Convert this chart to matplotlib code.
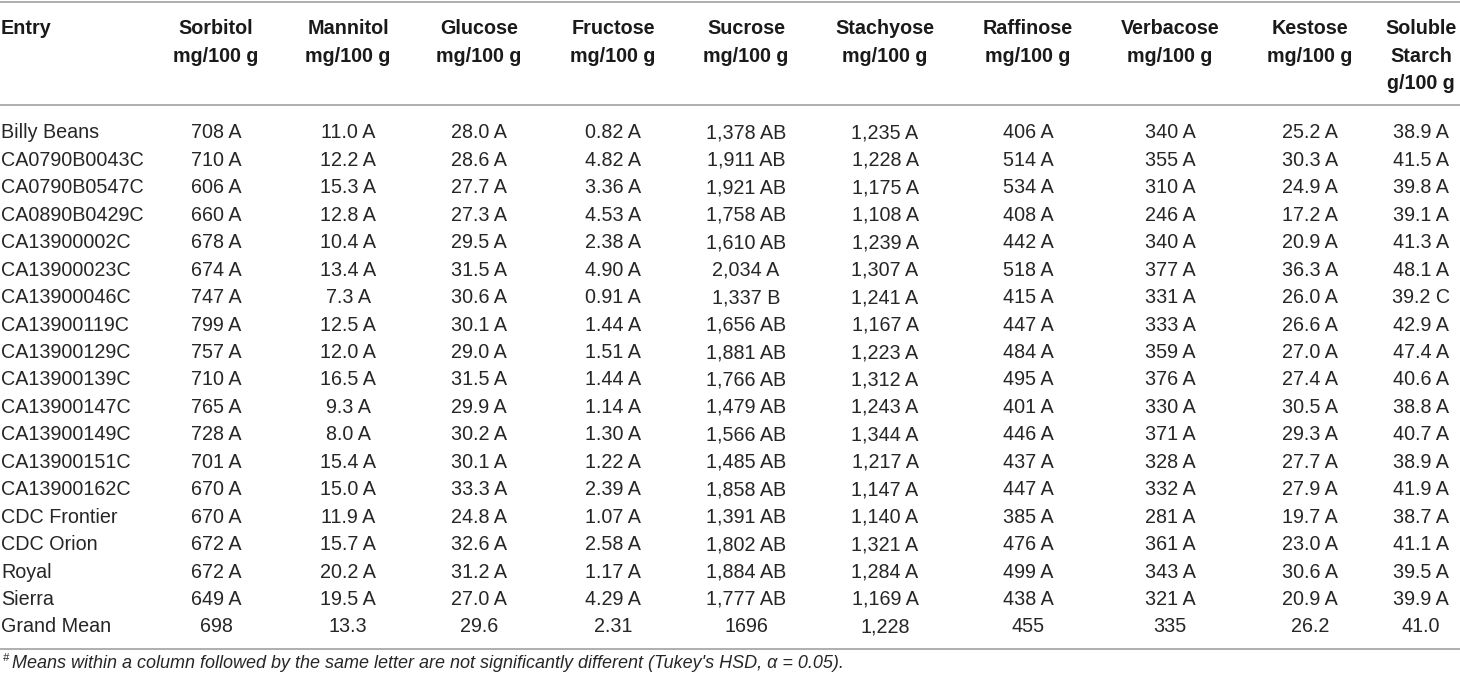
import matplotlib
matplotlib.use("Agg")
import matplotlib.pyplot as plt

entries = ["Billy Beans", "CA0790B0043C", "CA0790B0547C", "CA0890B0429C", "CA13900002C",
           "CA13900023C", "CA13900046C", "CA13900119C", "CA13900129C", "CA13900139C",
           "CA13900147C", "CA13900149C", "CA13900151C", "CA13900162C", "CDC Frontier",
           "CDC Orion", "Royal", "Sierra", "Grand Mean"]

headers = ["Sorbitol\nmg/100 g", "Mannitol\nmg/100 g", "Glucose\nmg/100 g", "Fructose\nmg/100 g",
           "Sucrose\nmg/100 g", "Stachyose\nmg/100 g", "Raffinose\nmg/100 g", "Verbacose\nmg/100 g",
           "Kestose\nmg/100 g", "Soluble\nStarch\ng/100 g"]

sorbitol = ["708 A", "710 A", "606 A", "660 A", "678 A", "674 A", "747 A", "799 A", "757 A", "710 A",
            "765 A", "728 A", "701 A", "670 A", "670 A", "672 A", "672 A", "649 A", "698"]
mannitol = ["11.0 A", "12.2 A", "15.3 A", "12.8 A", "10.4 A", "13.4 A", "7.3 A", "12.5 A", "12.0 A",
            "16.5 A", "9.3 A", "8.0 A", "15.4 A", "15.0 A", "11.9 A", "15.7 A", "20.2 A", "19.5 A", "13.3"]
glucose = ["28.0 A", "28.6 A", "27.7 A", "27.3 A", "29.5 A", "31.5 A", "30.6 A", "30.1 A", "29.0 A",
           "31.5 A", "29.9 A", "30.2 A", "30.1 A", "33.3 A", "24.8 A", "32.6 A", "31.2 A", "27.0 A", "29.6"]
fructose = ["0.82 A", "4.82 A", "3.36 A", "4.53 A", "2.38 A", "4.90 A", "0.91 A", "1.44 A", "1.51 A",
            "1.44 A", "1.14 A", "1.30 A", "1.22 A", "2.39 A", "1.07 A", "2.58 A", "1.17 A", "4.29 A", "2.31"]
sucrose = ["1,378 AB", "1,911 AB", "1,921 AB", "1,758 AB", "1,610 AB", "2,034 A", "1,337 B", "1,656 AB",
           "1,881 AB", "1,766 AB", "1,479 AB", "1,566 AB", "1,485 AB", "1,858 AB", "1,391 AB", "1,802 AB",
           "1,884 AB", "1,777 AB", "1696"]
stachyose = ["1,235 A", "1,228 A", "1,175 A", "1,108 A", "1,239 A", "1,307 A", "1,241 A", "1,167 A",
             "1,223 A", "1,312 A", "1,243 A", "1,344 A", "1,217 A", "1,147 A", "1,140 A", "1,321 A",
             "1,284 A", "1,169 A", "1,228"]
raffinose = ["406 A", "514 A", "534 A", "408 A", "442 A", "518 A", "415 A", "447 A", "484 A", "495 A",
             "401 A", "446 A", "437 A", "447 A", "385 A", "476 A", "499 A", "438 A", "455"]
verbacose = ["340 A", "355 A", "310 A", "246 A", "340 A", "377 A", "331 A", "333 A", "359 A", "376 A",
             "330 A", "371 A", "328 A", "332 A", "281 A", "361 A", "343 A", "321 A", "335"]
kestose = ["25.2 A", "30.3 A", "24.9 A", "17.2 A", "20.9 A", "36.3 A", "26.0 A", "26.6 A", "27.0 A",
           "27.4 A", "30.5 A", "29.3 A", "27.7 A", "27.9 A", "19.7 A", "23.0 A", "30.6 A", "20.9 A", "26.2"]
starch = ["38.9 A", "41.5 A", "39.8 A", "39.1 A", "41.3 A", "48.1 A", "39.2 C", "42.9 A", "47.4 A",
          "40.6 A", "38.8 A", "40.7 A", "38.9 A", "41.9 A", "38.7 A", "41.1 A", "39.5 A", "39.9 A", "41.0"]

columns = [sorbitol, mannitol, glucose, fructose, sucrose, stachyose, raffinose, verbacose, kestose, starch]

footnote_mark = "#"
footnote = "Means within a column followed by the same letter are not significantly different (Tukey's HSD, α = 0.05)."

# layout (pixels)
W, H = 1460, 680
col_x = [216, 348, 479, 613, 746, 885, 1028, 1170, 1310, 1421]
row_base0, row_dy = 138.5, 27.44
head_base0, head_dy = 34.5, 27.2
fs = 14.2
fs_head = 14.2
font = ["Liberation Sans", "DejaVu Sans"]
line_color = "#a8a8a8"
text_color = "#262626"

fig = plt.figure(figsize=(W / 100, H / 100), dpi=100)
ax = fig.add_axes([0, 0, 1, 1])
ax.set_xlim(0, W)
ax.set_ylim(H, 0)
ax.axis("off")

# rules
for y in (1.5, 105, 649):
    ax.plot([0, W], [y, y], color=line_color, lw=1.3, solid_capstyle="butt")

# header
ax.text(1, head_base0, "Entry", ha="left", va="baseline", fontsize=fs_head, fontweight="bold",
        family=font, color="#1a1a1a")
for x, h in zip(col_x, headers):
    for i, ln in enumerate(h.split("\n")):
        ax.text(x, head_base0 + i * head_dy, ln, ha="center", va="baseline", fontsize=fs_head,
                fontweight="bold", family=font, color="#1a1a1a")

# body
for r, name in enumerate(entries):
    y = row_base0 + r * row_dy
    ax.text(1, y, name, ha="left", va="baseline", fontsize=fs, family=font, color=text_color)
    for x, col in zip(col_x, columns):
        ax.text(x, y, col[r], ha="center", va="baseline", fontsize=fs, family=font, color=text_color)

# footnote
ax.text(3, 661, footnote_mark, ha="left", va="baseline", fontsize=8, style="italic",
        family=font, color=text_color)
ax.text(12, 668, footnote, ha="left", va="baseline", fontsize=13, style="italic",
        family=font, color=text_color)

fig.savefig("out.png", dpi=100)
